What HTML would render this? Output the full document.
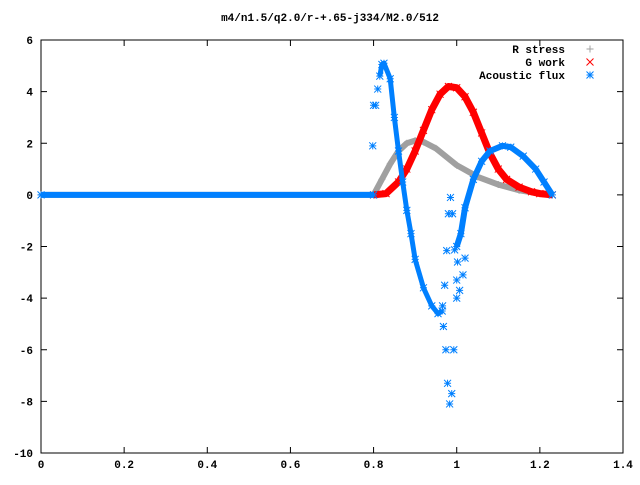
<!DOCTYPE html>
<html><head><meta charset="utf-8"><style>
body{margin:0;background:#fff}
svg text{font-family:"Liberation Mono",monospace;font-size:11px;font-weight:bold;fill:#000}
</style></head><body>
<svg id="chart" width="640" height="480" xmlns="http://www.w3.org/2000/svg">
<rect width="640" height="480" fill="#fff"/>
<text x="330" y="21" text-anchor="middle">m4/n1.5/q2.0/r-+.65-j334/M2.0/512</text>
<g id="axes"></g>
<g id="series"></g>
<g id="legend"></g>
</svg>
<script>
const xTicks=[0,0.2,0.4,0.6,0.8,1,1.2,1.4];
const xTickLabels=["0","0.2","0.4","0.6","0.8","1","1.2","1.4"];
const yTicks=[6,4,2,0,-2,-4,-6,-8,-10];
const yTickLabels=["6","4","2","0","-2","-4","-6","-8","-10"];
const rX=[0,0.8,0.82,0.84,0.86,0.88,0.9,0.92,0.95,1.0,1.05,1.1,1.15,1.2,1.23];
const rY=[0,0,0.6,1.2,1.7,2.0,2.1,2.05,1.8,1.15,0.7,0.4,0.18,0.05,0];
const gX=[0.8,0.83,0.86,0.88,0.9,0.92,0.94,0.96,0.98,1.0,1.02,1.04,1.06,1.08,1.1,1.12,1.15,1.18,1.2,1.23];
const gY=[0,0.05,0.5,1.0,1.7,2.5,3.3,3.9,4.2,4.15,3.8,3.2,2.4,1.6,1.0,0.6,0.3,0.12,0.05,0];
const aX0=[0,0.8];
const aY0=[0,0];
const aX1=[0.815,0.82,0.825,0.84,0.85,0.86,0.87,0.88,0.89,0.9,0.92,0.94,0.955,0.965];
const aY1=[4.6,5.05,5.1,4.5,3.0,1.7,0.5,-0.6,-1.5,-2.5,-3.6,-4.3,-4.6,-4.5];
const aX2=[1.0,1.01,1.02,1.04,1.06,1.08,1.11,1.13,1.16,1.19,1.21,1.23];
const aY2=[-2.0,-1.5,-0.5,0.6,1.3,1.7,1.9,1.85,1.5,1.0,0.5,0];
const aSX=[0.798,0.8,0.805,0.81,0.985,0.98,0.99,0.976,0.995,1.002,1.02,1.015,1.0,1.007,1.0,0.971,0.966,0.968,0.974,0.993,0.978,0.988,0.983];
const aSY=[1.9,3.47,3.47,4.1,-0.1,-0.73,-0.73,-2.16,-2.13,-2.6,-2.45,-3.1,-3.3,-3.7,-4.0,-3.5,-4.3,-5.1,-6.0,-6.0,-7.3,-7.7,-8.1];
const X0=41,X1=623,Y0=40,Y1=453;
const xs=v=>X0+v*(X1-X0)/1.4;
const ys=v=>Y0+(6-v)*(Y1-Y0)/16;
const NS="http://www.w3.org/2000/svg";
function mk(tag,attrs,parent){const e=document.createElementNS(NS,tag);for(const k in attrs)e.setAttribute(k,attrs[k]);parent.appendChild(e);return e;}
const axes=document.getElementById('axes');
const frame=mk('rect',{x:X0,y:Y0,width:X1-X0,height:Y1-Y0,fill:'none',stroke:'#000','stroke-width':1},axes);


xTicks.forEach((t,i)=>{const x=xs(t);
 mk('line',{x1:x,x2:x,y1:Y1,y2:Y1-6,stroke:'#000'},axes);
 mk('line',{x1:x,x2:x,y1:Y0,y2:Y0+6,stroke:'#000'},axes);
 const tx=mk('text',{x:x,y:Y1+15,'text-anchor':'middle'},axes);tx.textContent=xTickLabels[i];
 
 });
yTicks.forEach((t,i)=>{const y=ys(t);
 mk('line',{x1:X0,x2:X0+6,y1:y,y2:y,stroke:'#000'},axes);
 mk('line',{x1:X1,x2:X1-6,y1:y,y2:y,stroke:'#000'},axes);
 const tx=mk('text',{x:33,y:y+4,'text-anchor':'end'},axes);tx.textContent=yTickLabels[i];
 
 });
const ser=document.getElementById('series');
function marker(g,type,x,y,c){const s=3.5;
 if(type==='+'){mk('path',{d:`M${x-s} ${y}H${x+s}M${x} ${y-s}V${y+s}`,stroke:c,fill:'none'},g);}
 else if(type==='x'){mk('path',{d:`M${x-s} ${y-s}L${x+s} ${y+s}M${x-s} ${y+s}L${x+s} ${y-s}`,stroke:c,fill:'none'},g);}
 else {mk('path',{d:`M${x-s} ${y}H${x+s}M${x} ${y-s}V${y+s}M${x-s} ${y-s}L${x+s} ${y+s}M${x-s} ${y+s}L${x+s} ${y-s}`,stroke:c,fill:'none'},g);}}
function series(name,X,Y,c,type,w,band){const g=mk('g',{},ser);
 
 
 if(band){mk('polyline',{points:X.map((v,i)=>xs(v)+','+ys(Y[i])).join(' '),fill:'none',stroke:c,'stroke-width':w,'stroke-linejoin':'round'},g);}
 X.forEach((v,i)=>marker(g,type,xs(v),ys(Y[i]),c));}
series('r-stress-series',rX,rY,'#a0a0a0','+',6,true);
series('g-work-series',gX,gY,'#ff0000','x',7,true);
series('acoustic-flux-zero-line',aX0,aY0,'#0080ff','*',6,true);
series('acoustic-flux-left-branch',aX1,aY1,'#0080ff','*',5,true);
series('acoustic-flux-right-branch',aX2,aY2,'#0080ff','*',6,true);
series('acoustic-flux-scatter',aSX,aSY,'#0080ff','*',0,false);
const lg=document.getElementById('legend');
[["R stress",'#a0a0a0','+'],["G work",'#ff0000','x'],["Acoustic flux",'#0080ff','*']].forEach((e,i)=>{
 const g=mk('g',{},lg);
 
 
 const y=49+i*13;
 const t=mk('text',{x:565,y:y+4,'text-anchor':'end'},g);t.textContent=e[0];
 marker(g,e[2],590,y,e[1]);});
</script>
</body></html>
